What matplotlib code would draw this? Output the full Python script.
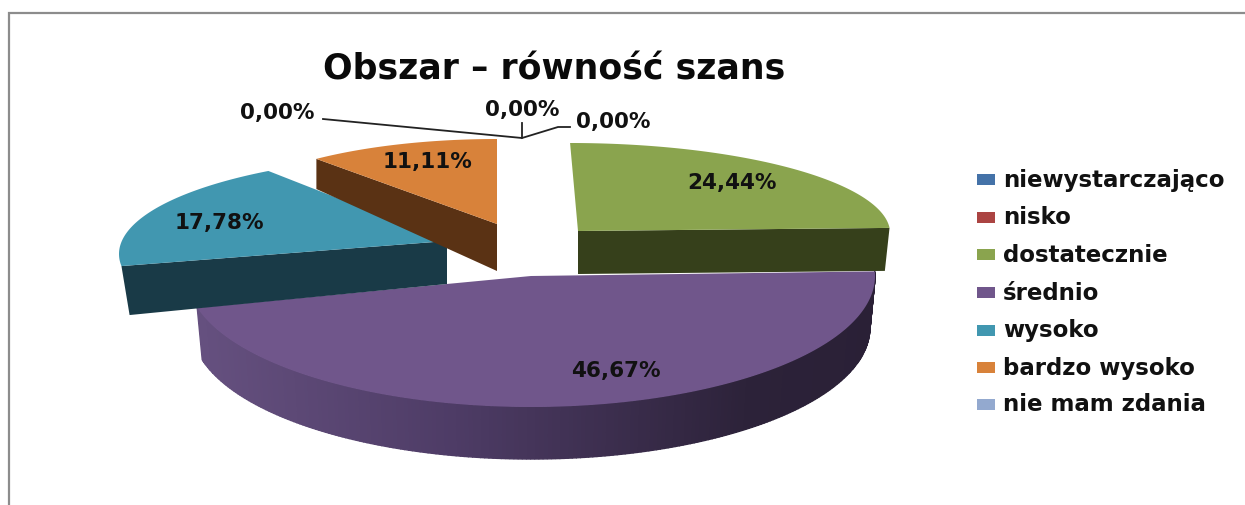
import numpy as np
import matplotlib
matplotlib.use("Agg")
import matplotlib.pyplot as plt
from matplotlib.colors import to_rgb
from matplotlib.patches import Polygon, Rectangle

# chart data
categories = ["niewystarczająco", "nisko", "dostatecznie", "średnio", "wysoko", "bardzo wysoko", "nie mam zdania"]
percents = [0.00, 0.00, 24.44, 46.67, 17.78, 11.11, 0.00]
title = "Obszar – równość szans"

# styles
face_colors = ["#4472a8", "#ab4442", "#8aa44e", "#70568b", "#4197b0", "#d8823a", "#93a9cf"]
side_colors = {2: "#36401b", 4: "#193a47", 5: "#5a3214"}
rim_dark = ["#65507f", "#4e3c66", "#2c2239", "#2a2036"]
rim_x = [200, 450, 750, 880]

# slice geometry in pixels: cx, cy, rx, ry, shear, depth, bottom rx scale, bottom ry,
# then arc centre offset in y and angle offset (perspective of the 3d pie)
geom = {
    2: (578, 232, 312, 88, -0.09, 43, 0.985, 88, 0, 0),
    3: (531, 277, 344, 131, 0.0, 52, 0.985, 131, 0, 0),
    4: (447, 242, 328, 99, 0.0, 43, 0.975, 148, 13, 7),
    5: (497, 225, 281, 85, 0.0, 47, 1.0, 107, 0, 0),
}
label_pos = {2: (732, 183), 3: (616, 371), 4: (219, 223), 5: (427, 162)}
zero_label_pos = {0: (522, 110), 1: (613, 122), 6: (277, 113)}


def arc(cx, cy, rx, ry, shear, t0, t1, n=240):
    t = np.radians(np.linspace(t0, t1, n))
    x = cx + rx * np.sin(t) + shear * ry * np.cos(t)
    y = cy - ry * np.cos(t)
    return x, y


def pct(v):
    return f"{v:.2f}%".replace(".", ",")


fig = plt.figure(figsize=(12.45, 5.06), dpi=100)
ax = fig.add_axes([0, 0, 1, 1])
ax.set_xlim(0, 1245)
ax.set_ylim(506, 0)
ax.axis("off")

# frame of the pasted chart
ax.plot([8.5, 8.5, 1245], [506, 13.5, 13.5], color="#8c8c8c", lw=1.6, solid_joinstyle="miter")

edges = np.cumsum([0] + percents) / sum(percents) * 360

for i in [5, 4, 2, 3]:
    cx, cy, rx, ry, sh, d, bs, bry, oy, dt = geom[i]
    t0, t1 = edges[i] + dt, edges[i + 1] + dt
    xt, yt = arc(cx, cy + oy, rx, ry, sh, t0, t1)
    xb, yb = arc(cx, cy + oy + d, rx * bs, bry, sh, t0, t1)

    if i == 3:
        # rim with a dark gradient towards the right
        r = np.array([to_rgb(c) for c in rim_dark])
        for k in range(len(xt) - 1):
            mid = (xt[k] + xt[k + 1]) / 2
            col = [np.interp(mid, rim_x, r[:, c]) for c in range(3)]
            quad = [(xt[k], yt[k]), (xt[k + 1], yt[k + 1]), (xb[k + 1], yb[k + 1]), (xb[k], yb[k])]
            ax.add_patch(Polygon(quad, fc=col, ec=col, lw=1.0, zorder=i))
    elif i == 2:
        quad = [(cx, cy), (xt[-1], yt[-1]), (xb[-1], yb[-1]), (cx, cy + d)]
        ax.add_patch(Polygon(quad, fc=side_colors[i], ec="none", zorder=i))
    else:
        quad = [(cx, cy), (xt[0], yt[0]), (xb[0], yb[0]), (cx, cy + d)]
        ax.add_patch(Polygon(quad, fc=side_colors[i], ec="none", zorder=i))

    top = np.column_stack([np.r_[cx, xt], np.r_[cy, yt]])
    ax.add_patch(Polygon(top, fc=face_colors[i], ec="none", zorder=i + 0.5))

    lx, ly = label_pos[i]
    ax.text(lx, ly, pct(percents[i]), ha="center", va="center", fontsize=15.5,
            fontweight="bold", color="#111111", zorder=10)

# leader lines of the empty slices
ax.plot([323, 522, 522], [120, 139, 124], color="#222222", lw=1.3, zorder=9)
ax.plot([522, 558, 570], [139, 128, 128], color="#222222", lw=1.3, zorder=9)
for i, (lx, ly) in zero_label_pos.items():
    ax.text(lx, ly, pct(percents[i]), ha="center", va="center", fontsize=15.5,
            fontweight="bold", color="#111111", zorder=10)

ax.text(554, 69, title, ha="center", va="center", fontsize=25, fontweight="bold", color="#0a0a0a")

# legend
legend_y = [180, 218, 255, 293, 331, 368, 405]
for name, col, y in zip(categories, face_colors, legend_y):
    ax.add_patch(Rectangle((977, y - 5.5), 17.5, 11, fc=col, ec="none"))
    ax.text(1003, y, name, ha="left", va="center", fontsize=16.5, fontweight="bold", color="#111111")

fig.savefig("out.png", dpi=100)
